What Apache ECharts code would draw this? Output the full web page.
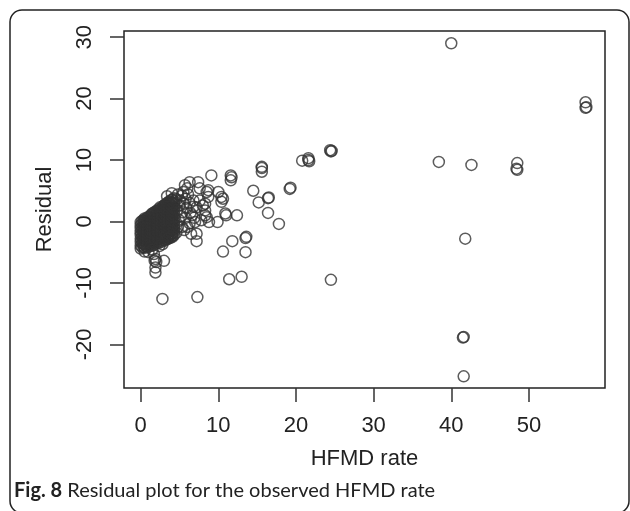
<!DOCTYPE html>
<html>
<head>
<meta charset="utf-8">
<script src="https://cdn.jsdelivr.net/npm/echarts@6/dist/echarts.min.js"></script>
<style>
  html, body { margin: 0; padding: 0; background: #fff; }
  #runChart { width: 630px; height: 511px; }
</style>
</head>
<body>
<div id="runChart"></div>
<script>
// tick positions
let xTicks = [0, 10, 20, 30, 40, 50];
let yTicks = [-20, -10, 0, 10, 20, 30];

// the solid blob of low-rate counties, [HFMD rate, residual]
let denseCluster = [
  [0.0, -4.4], [0.0, -3.9], [0.0, -3.3], [0.0, -2.8], [0.0, -2.2], [0.0, -1.7], [0.0, -1.1], [0.0, -0.6], [0.0, -0.1],
  [0.2, -4.2], [0.2, -3.6], [0.2, -3.1], [0.2, -2.5], [0.2, -2.0], [0.2, -1.4], [0.2, -0.9], [0.2, -0.3], [0.2, 0.1],
  [0.4, -4.1], [0.4, -3.6], [0.4, -3.0], [0.4, -2.5], [0.4, -1.9], [0.4, -1.4], [0.4, -0.8], [0.4, -0.3], [0.4, 0.2],
  [0.5, -4.3], [0.5, -3.8], [0.5, -3.2], [0.5, -2.7], [0.5, -2.1], [0.5, -1.6], [0.5, -1.0], [0.5, -0.5], [0.5, 0.0], [0.5, 0.5],
  [0.7, -4.0], [0.7, -3.5], [0.7, -2.9], [0.7, -2.4], [0.7, -1.8], [0.7, -1.3], [0.7, -0.7], [0.7, -0.2], [0.7, 0.4],
  [0.9, -4.2], [0.9, -3.7], [0.9, -3.1], [0.9, -2.6], [0.9, -2.0], [0.9, -1.5], [0.9, -0.9], [0.9, -0.4], [0.9, 0.2], [0.9, 0.7],
  [1.1, -3.8], [1.1, -3.2], [1.1, -2.7], [1.1, -2.1], [1.1, -1.6], [1.1, -1.0], [1.1, -0.5], [1.1, 0.1], [1.1, 0.7],
  [1.3, -4.0], [1.3, -3.4], [1.3, -2.9], [1.3, -2.3], [1.3, -1.8], [1.3, -1.2], [1.3, -0.7], [1.3, -0.1], [1.3, 0.4], [1.3, 1.0],
  [1.4, -3.7], [1.4, -3.1], [1.4, -2.6], [1.4, -2.0], [1.4, -1.5], [1.4, -0.9], [1.4, -0.4], [1.4, 0.2], [1.4, 0.7], [1.4, 1.2],
  [1.6, -3.9], [1.6, -3.3], [1.6, -2.8], [1.6, -2.2], [1.6, -1.7], [1.6, -1.1], [1.6, -0.6], [1.6, 0.0], [1.6, 0.5], [1.6, 1.1], [1.6, 1.4],
  [1.8, -3.4], [1.8, -2.9], [1.8, -2.3], [1.8, -1.8], [1.8, -1.2], [1.8, -0.7], [1.8, -0.1], [1.8, 0.4], [1.8, 1.0], [1.8, 1.5],
  [2.0, -3.6], [2.0, -3.1], [2.0, -2.5], [2.0, -2.0], [2.0, -1.4], [2.0, -0.9], [2.0, -0.3], [2.0, 0.2], [2.0, 0.8], [2.0, 1.3], [2.0, 1.7],
  [2.2, -3.3], [2.2, -2.8], [2.2, -2.2], [2.2, -1.7], [2.2, -1.1], [2.2, -0.6], [2.2, 0.0], [2.2, 0.5], [2.2, 1.1], [2.2, 1.7],
  [2.3, -3.5], [2.3, -2.9], [2.3, -2.4], [2.3, -1.8], [2.3, -1.3], [2.3, -0.7], [2.3, -0.2], [2.3, 0.4], [2.3, 0.9], [2.3, 1.5], [2.3, 2.0],
  [2.5, -3.1], [2.5, -2.5], [2.5, -2.0], [2.5, -1.4], [2.5, -0.9], [2.5, -0.3], [2.5, 0.2], [2.5, 0.8], [2.5, 1.3], [2.5, 1.9], [2.5, 2.3],
  [2.7, -3.3], [2.7, -2.7], [2.7, -2.2], [2.7, -1.6], [2.7, -1.1], [2.7, -0.5], [2.7, 0.0], [2.7, 0.6], [2.7, 1.1], [2.7, 1.7], [2.7, 2.2],
  [2.9, -3.0], [2.9, -2.4], [2.9, -1.9], [2.9, -1.3], [2.9, -0.8], [2.9, -0.2], [2.9, 0.3], [2.9, 0.9], [2.9, 1.4], [2.9, 2.0], [2.9, 2.5],
  [3.1, -3.1], [3.1, -2.6], [3.1, -2.0], [3.1, -1.5], [3.1, -0.9], [3.1, -0.4], [3.1, 0.2], [3.1, 0.7], [3.1, 1.3], [3.1, 1.8], [3.1, 2.4], [3.1, 2.7],
  [3.2, -2.8], [3.2, -2.2], [3.2, -1.7], [3.2, -1.1], [3.2, -0.6], [3.2, 0.0], [3.2, 0.5], [3.2, 1.1], [3.2, 1.6], [3.2, 2.2], [3.2, 2.8],
  [3.4, -2.9], [3.4, -2.4], [3.4, -1.8], [3.4, -1.3], [3.4, -0.7], [3.4, -0.2], [3.4, 0.4], [3.4, 0.9], [3.4, 1.5], [3.4, 2.0], [3.4, 2.6], [3.4, 3.0],
  [3.6, -2.6], [3.6, -2.0], [3.6, -1.5], [3.6, -0.9], [3.6, -0.4], [3.6, 0.2], [3.6, 0.7], [3.6, 1.3], [3.6, 1.8], [3.6, 2.4], [3.6, 2.9], [3.6, 3.2],
  [3.8, -2.7], [3.8, -2.2], [3.8, -1.6], [3.8, -1.1], [3.8, -0.5], [3.8, 0.0], [3.8, 0.6], [3.8, 1.1], [3.8, 1.7], [3.8, 2.2], [3.8, 2.8], [3.8, 3.3],
  [4.0, -2.4], [4.0, -1.9], [4.0, -1.3], [4.0, -0.8], [4.0, -0.2], [4.0, 0.3], [4.0, 0.9], [4.0, 1.4], [4.0, 2.0], [4.0, 2.5], [4.0, 3.1], [4.0, 3.5],
  [4.1, -2.5], [4.1, -2.0], [4.1, -1.4], [4.1, -0.9], [4.1, -0.3], [4.1, 0.2], [4.1, 0.8], [4.1, 1.3], [4.1, 1.9], [4.1, 2.4], [4.1, 3.0], [4.1, 3.6],
  [4.3, -2.2], [4.3, -1.6], [4.3, -1.1], [4.3, -0.5], [4.3, 0.0], [4.3, 0.6], [4.3, 1.1], [4.3, 1.7], [4.3, 2.2], [4.3, 2.8], [4.3, 3.3], [4.3, 3.8]
];

// looser rings round the edge of the blob
let clusterFringe = [
  [4.8, 4.4], [5.3, 4.2], [5.0, 2.6], [5.4, 1.5], [4.9, 0.3], [5.3, -0.9], [5.8, 3.7], [5.9, 2.2],
  [5.8, 0.6], [6.3, 3.0], [6.4, 1.4], [6.3, -0.3], [6.8, 2.4], [6.9, 0.6], [4.6, -1.8], [5.6, -1.4],
  [0.5, -4.9], [1.0, -5.0], [1.5, -4.6], [1.7, -5.3], [2.4, -4.0], [2.8, -3.7],
  [4.6, 3.6], [5.1, 3.4], [5.5, 4.8], [4.7, 1.9], [5.2, 0.9], [4.8, -0.9], [6.1, 4.4], [6.6, 1.0],
  [5.6, 2.9], [6.0, -0.9], [3.4, 4.1], [4.0, 4.6]
];

// scattered points around the blob, rate below 25
let midPoints = [
  [5.7, 5.9], [6.3, 6.4], [6.0, 5.4], [7.4, 6.4], [7.6, 5.4], [9.1, 7.5], [8.5, 4.8], [8.7, 4.0],
  [7.6, 3.4], [6.8, 3.4], [8.0, 2.6], [7.2, 2.3], [8.3, 1.0], [7.8, 0.2], [7.0, -0.1], [7.2, -2.0],
  [6.5, -2.0], [7.2, -3.2], [3.5, -2.8], [8.7, 5.1], [8.3, 2.9], [8.3, 1.8], [8.5, 0.7], [10.0, 4.8],
  [11.6, 7.5], [11.6, 6.7], [11.7, 7.2], [10.4, 4.0], [10.4, 3.2], [10.6, 3.7],
  [11.0, 1.0], [12.4, 1.0], [9.9, -0.1], [8.8, -0.1], [10.9, 1.3],
  [11.8, -3.2], [13.5, -2.7], [13.6, -2.5], [10.6, -4.9], [13.5, -5.0],
  [11.4, -9.4], [13.0, -9.0], [2.8, -12.6], [7.3, -12.3],
  [1.9, -6.1], [1.9, -7.5], [1.9, -8.3], [2.0, -6.6], [3.0, -6.4], [1.8, -6.4],
  [14.5, 5.0], [15.6, 8.9], [15.6, 8.7], [15.6, 8.1], [16.4, 3.8], [16.5, 3.9], [15.2, 3.1],
  [16.4, 1.4], [17.8, -0.4], [19.2, 5.3], [19.3, 5.5],
  [20.8, 9.9], [21.6, 10.3], [21.7, 9.8], [21.6, 10.0],
  [24.5, 11.4], [24.4, 11.6], [24.6, 11.5], [24.5, -9.5]
];

// far points, rate above 35
let outliers = [
  [38.4, 9.7], [42.6, 9.2], [48.5, 9.5], [48.5, 8.4], [48.4, 8.6], [41.8, -2.8],
  [41.6, -18.8], [41.5, -18.9], [41.6, -25.2], [40.0, 29.0],
  [57.3, 19.4], [57.3, 18.5], [57.4, 18.6]
];

let allPoints = denseCluster.concat(clusterFringe, midPoints, outliers);

let labelFont = { fontFamily: "Liberation Sans", fontSize: 22, color: "#222" };

let option = {
  animation: false,
  backgroundColor: "#fff",
  grid: {
    left: 124,
    top: 31,
    right: 25,
    bottom: 123,
    show: true,
    borderColor: "#222",
    borderWidth: 1.5
  },
  xAxis: {
    type: "value",
    min: -2.15,
    max: 59.8,
    name: "HFMD rate",
    nameLocation: "middle",
    nameGap: 60,
    nameTextStyle: labelFont,
    axisLine: { show: false, onZero: false },
    axisTick: { show: true, length: 14, customValues: xTicks, lineStyle: { color: "#333", width: 1.5 } },
    axisLabel: Object.assign({ margin: 27, customValues: xTicks }, labelFont),
    splitLine: { show: false }
  },
  yAxis: {
    type: "value",
    min: -27.1,
    max: 31.0,
    name: "Residual",
    nameLocation: "middle",
    nameGap: 68,
    nameTextStyle: labelFont,
    axisLine: { show: false, onZero: false },
    axisTick: { show: true, length: 14, customValues: yTicks, lineStyle: { color: "#333", width: 1.5 } },
    axisLabel: Object.assign({ margin: 28, rotate: 90, customValues: yTicks }, labelFont),
    splitLine: { show: false }
  },
  series: [
    {
      type: "scatter",
      data: allPoints,
      symbol: "circle",
      symbolSize: 11,
      itemStyle: {
        color: "rgba(0,0,0,0)",
        borderColor: "#333",
        borderWidth: 1.5
      }
    }
  ],
  graphic: [
    {
      type: "rect",
      shape: { x: 10, y: 10, width: 619, height: 503, r: 12 },
      style: { fill: "none", stroke: "#222", lineWidth: 1.5 },
      silent: true
    },
    {
      type: "text",
      left: 14,
      top: 481,
      style: {
        text: "{b|Fig. 8} Residual plot for the observed HFMD rate",
        fontFamily: "Lato",
        fontSize: 20,
        fill: "#222",
        rich: {
          b: { fontFamily: "Lato", fontSize: 20, fontWeight: "bold", fill: "#222" }
        }
      }
    }
  ]
};

var myChart = echarts.init(document.getElementById("runChart"));
myChart.setOption(option);
</script>
</body>
</html>
